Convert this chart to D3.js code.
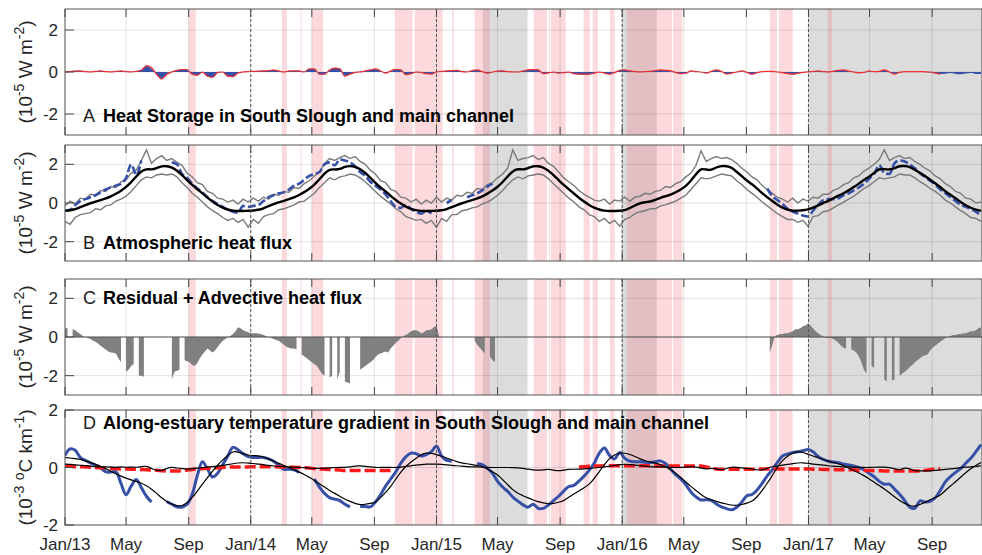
<!DOCTYPE html>
<html>
<head>
<meta charset="utf-8">
<script src="https://cdn.jsdelivr.net/npm/d3@7"></script>
<style>
body { margin: 0; background: #fff; }
svg { font-family: "Liberation Sans", Arial, Helvetica, sans-serif; }
</style>
</head>
<body>
<div id="chart"></div>
<script>
// time axis: 10-day samples from Jan 1 2013 unless noted
let t0 = new Date(2013, 0, 1);
let t1 = new Date(2017, 11, 8);

// shaded periods
let pinkBands = [
  ['2013-09-01', '2013-09-15'], ['2014-03-03', '2014-03-13'], ['2014-04-09', '2014-04-11'],
  ['2014-05-01', '2014-05-23'], ['2014-10-11', '2014-11-15'], ['2014-11-19', '2015-01-13'],
  ['2015-02-01', '2015-02-04'], ['2015-03-17', '2015-04-16'], ['2015-07-11', '2015-08-06'],
  ['2015-08-10', '2015-08-12'], ['2015-08-14', '2015-09-12'], ['2015-10-17', '2015-10-29'],
  ['2015-11-04', '2015-11-14'], ['2015-12-08', '2015-12-17'], ['2016-01-10', '2016-04-08'],
  ['2016-04-10', '2016-04-28'], ['2016-10-17', '2016-10-31'], ['2016-11-04', '2016-12-01'],
  ['2017-02-08', '2017-02-16']
];
let grayBands = [['2015-04-02', '2015-06-29'], ['2015-12-31', '2016-03-09'], ['2017-01-01', '2017-12-31']];

// A: heat storage
let storageA = [0.02,0.04,0.06,0.05,0.02,0.01,0.04,0.06,0.03,0.01,
  0.04,0.06,0.03,0.01,0.05,0.12,0.28,0.15,-0.12,-0.3,
  -0.1,0.02,0.1,0.12,0.1,-0.12,-0.17,-0.02,-0.22,-0.26,
  -0.05,0,-0.22,-0.25,-0.06,0.01,0.03,0.04,0.05,0.06,
  0.08,0.1,0.06,0.01,0.05,0.06,0.06,0.02,0.16,0.14,
  -0.12,-0.12,0.1,0.2,0.15,-0.18,-0.12,-0.03,0.01,0.05,
  0.1,0.14,0.06,-0.06,0.04,0.12,0.1,-0.14,-0.1,-0.01,
  -0.03,-0.1,-0.1,0.01,0.04,0.05,0.08,0.09,0.03,0.01,
  0.06,0.1,0.03,-0.06,-0.01,0.04,0.06,0.03,0.01,0.01,
  0.06,0.1,0.12,0.1,-0.1,-0.06,-0.02,-0.06,-0.04,-0.02,
  -0.1,-0.12,-0.13,-0.12,-0.06,-0.01,-0.06,-0.12,-0.04,0.07,
  0.1,0.06,0.03,0.01,0.03,0.04,0.08,0.1,0.08,0.04,
  -0.03,-0.1,-0.07,0.04,0.02,0,-0.06,0.02,0.09,0.02,
  -0.1,-0.06,0,0.04,-0.03,-0.12,-0.05,0.01,0.03,0.02,
  0,-0.04,-0.1,-0.12,-0.08,-0.03,0.01,0.04,0.05,0.03,
  0.01,0.05,0.08,0.1,0.05,0.01,-0.04,-0.03,0.04,0.03,
  0.03,0.09,0.01,-0.08,-0.02,0.01,0.02,0.01,0.01,0,
  -0.02,-0.06,-0.1,-0.08,-0.05,-0.09,-0.11,-0.07,-0.05,-0.09,
  -0.1];
let redA = [0,0.02,0.04,0.05,0.02,0,0.03,0.05,0.02,0,
  0.03,0.05,0.02,0,0.03,0.08,0.3,0.2,-0.1,-0.33,
  -0.12,0,0.08,0.12,0.12,-0.1,-0.15,0,-0.2,-0.25,
  -0.02,0,-0.2,-0.22,-0.05,0,0.02,0.03,0.04,0.05,
  0.07,0.1,0.05,0,0.05,0.05,0.05,0,0.15,0.15,
  -0.1,-0.1,0.1,0.18,0.15,-0.2,-0.1,-0.02,0,0.05,
  0.1,0.15,0.05,-0.05,0.05,0.13,0.1,-0.13,-0.08,0,
  -0.02,-0.08,-0.1,0,0.03,0.05,0.07,0.08,0.02,0,
  0.07,0.1,0.02,-0.05,0,0.04,0.05,0.02,0,0,
  0.05,0.1,0.12,0.1,-0.08,-0.04,0,-0.05,-0.03,0,
  -0.08,-0.1,-0.1,-0.1,-0.05,0,-0.05,-0.1,-0.03,0.08,
  0.1,0.05,0.02,0,0.02,0.03,0.07,0.1,0.08,0.05,
  -0.02,-0.08,-0.06,0.05,0.02,0,-0.05,0.03,0.1,0.03,
  -0.1,-0.05,0,0.05,-0.02,-0.1,-0.03,0.02,0.03,0.03,
  0,-0.03,-0.08,-0.1,-0.06,-0.02,0,0.03,0.05,0.02,
  0,0.04,0.08,0.1,0.04,0,-0.04,-0.02,0.05,0.02,
  0.03,0.1,0,-0.1,-0.02,0.02,0.02,0.02,0.02,0.01,
  0,-0.05,-0.1,null,null,null,null,null,null,null,
  null];

// B: atmospheric heat flux
let meanB = [-0.4,-0.38,-0.33,-0.21,-0.11,-0.01,0.07,0.15,0.23,0.34,
  0.48,0.63,0.83,1.07,1.38,1.65,1.77,1.72,1.8,1.91,
  1.91,1.85,1.68,1.45,1.18,0.93,0.71,0.5,0.27,0.07,
  -0.11,-0.25,-0.34,-0.4,-0.42,-0.41,-0.4,-0.39,-0.36,-0.28,
  -0.16,-0.06,0.03,0.11,0.2,0.29,0.41,0.56,0.73,0.94,
  1.23,1.53,1.76,1.73,1.74,1.88,1.92,1.88,1.76,1.56,
  1.31,1.04,0.8,0.6,0.37,0.15,-0.03,-0.2,-0.31,-0.37,
  -0.41,-0.42,-0.41,-0.4,-0.38,-0.32,-0.21,-0.11,-0.01,0.07,
  0.15,0.23,0.34,0.48,0.64,0.83,1.08,1.38,1.66,1.77,
  1.72,1.8,1.91,1.91,1.84,1.67,1.45,1.18,0.93,0.71,
  0.49,0.27,0.07,-0.11,-0.25,-0.34,-0.4,-0.42,-0.41,-0.4,
  -0.39,-0.26,-0.13,0,0.04,0.07,0.15,0.27,0.35,0.42,
  0.55,0.7,0.87,1.15,1.5,1.8,1.72,1.7,1.85,1.92,
  1.91,1.85,1.6,1.4,1.15,0.98,0.75,0.5,0.3,0.1,
  -0.1,-0.24,-0.35,-0.4,-0.4,-0.38,-0.34,-0.25,-0.12,0,
  0.1,0.25,0.38,0.5,0.65,0.82,1.0,1.2,1.35,1.55,
  1.78,1.75,1.72,1.8,1.92,1.92,1.88,1.72,1.55,1.4,
  1.2,1.03,0.82,0.6,0.42,0.25,0.05,-0.12,-0.25,-0.35,
  -0.4];
let upperB = [-0.15,0.1,-0.05,0.25,0.2,0.45,0.4,0.65,0.6,0.85,
  0.8,1.1,1.2,1.55,1.7,2.2,2.75,2.05,2.3,2.45,
  2.2,2.3,2.1,1.95,1.55,1.35,1.05,0.95,0.6,0.5,
  0.25,0.2,0.05,0.15,-0.05,0.2,0.05,0.25,0.1,0.3,
  0.2,0.45,0.4,0.6,0.55,0.8,0.75,1.0,1.15,1.4,
  1.6,2.05,2.3,2.2,2.35,2.45,2.3,2.4,2.15,2.0,
  1.7,1.5,1.15,1.05,0.7,0.6,0.3,0.25,0.05,0.2,
  -0.05,0.15,0.0,0.3,0.05,0.25,0.15,0.4,0.35,0.55,
  0.5,0.75,0.7,0.95,1.05,1.3,1.5,1.8,2.75,2.2,
  2.3,2.35,2.45,2.25,2.35,2.05,1.9,1.6,1.3,1.1,
  0.9,0.65,0.45,0.3,0.15,0.1,0.2,-0.05,0.15,0.1,
  0.3,0.1,0.3,0.35,0.5,0.45,0.6,0.65,0.85,0.8,
  1.0,1.1,1.35,1.55,1.95,2.7,2.15,2.3,2.4,2.3,
  2.35,2.25,2.05,1.8,1.6,1.35,1.2,0.9,0.7,0.5,
  0.3,0.2,0.05,0.25,0.0,0.2,0.1,0.3,0.25,0.45,
  0.45,0.65,0.75,0.95,1.05,1.3,1.4,1.65,1.8,2.0,
  2.25,2.75,2.2,2.35,2.45,2.3,2.35,2.15,2.0,1.8,
  1.65,1.4,1.25,1.0,0.85,0.6,0.5,0.25,0.2,0.0,
  0.05];
let lowerB = [-0.95,-1.1,-0.75,-0.6,-0.55,-0.5,-0.3,-0.35,-0.15,-0.1,
  0.1,0.2,0.35,0.6,0.9,1.2,1.35,1.3,1.45,1.5,
  1.45,1.5,1.35,1.05,0.8,0.5,0.3,0.05,-0.2,-0.4,
  -0.55,-0.75,-0.9,-0.8,-1.0,-0.85,-1.25,-0.85,-1.05,-0.7,
  -0.6,-0.55,-0.35,-0.3,-0.2,-0.1,0.05,0.1,0.3,0.5,
  0.8,1.05,1.3,1.2,1.35,1.4,1.5,1.45,1.3,1.1,
  0.85,0.6,0.35,0.15,-0.05,-0.3,-0.45,-0.7,-0.8,-0.9,
  -0.85,-1.05,-0.9,-1.25,-0.8,-0.95,-0.6,-0.6,-0.4,-0.35,
  -0.25,-0.2,-0.05,0.05,0.2,0.4,0.65,0.95,1.2,1.35,
  1.25,1.4,1.45,1.5,1.45,1.25,1.0,0.75,0.5,0.25,
  0.05,-0.2,-0.35,-0.6,-0.7,-0.95,-0.8,-1.05,-0.9,-1.2,
  -0.85,-0.75,-0.55,-0.45,-0.4,-0.3,-0.3,-0.15,-0.1,0.0,
  0.1,0.25,0.4,0.7,1.0,1.3,1.25,1.3,1.4,1.5,
  1.45,1.4,1.15,0.95,0.7,0.5,0.3,0.05,-0.15,-0.35,
  -0.55,-0.7,-0.85,-0.85,-1.0,-0.9,-1.2,-0.7,-0.65,-0.45,
  -0.4,-0.25,-0.1,0.05,0.2,0.35,0.55,0.75,0.9,1.1,
  1.3,1.25,1.3,1.35,1.5,1.45,1.45,1.3,1.1,0.95,
  0.75,0.6,0.4,0.15,0.0,-0.2,-0.4,-0.55,-0.75,-0.8,
  -0.95];
let blueB = [-0.4,-0.35,-0.1,0.1,0.2,0.3,0.4,0.55,0.7,0.8,
  0.9,1.0,1.3,2.0,1.45,2.2,null,null,null,null,
  null,2.1,2.0,1.5,1.3,1.0,0.75,0.55,0.3,0.1,
  -0.05,-0.2,-0.35,-0.45,-0.5,-0.15,-0.2,-0.15,-0.1,0.1,
  0.3,0.4,0.5,0.55,0.7,0.9,1.0,1.2,1.4,1.5,
  1.6,2.0,2.1,1.95,2.25,2.2,2.1,1.9,1.6,1.4,
  1.1,0.9,0.7,0.45,0.1,-0.2,-0.25,-0.1,-0.3,-0.45,
  -0.55,-0.4,-0.55,null,null,0.0,0.15,null,null,0.3,
  0.4,0.5,0.65,0.85,1.0,null,null,null,null,null,
  null,null,null,null,null,null,null,null,null,null,
  null,null,null,null,null,null,null,null,null,null,
  null,null,null,null,null,null,null,null,null,null,
  null,null,null,null,null,null,null,null,null,null,
  null,null,null,null,null,null,null,null,0.75,0.35,
  0.15,-0.05,-0.3,-0.45,-0.55,-0.65,-0.7,-0.4,-0.1,0.15,
  0.2,0.2,0.25,0.4,0.5,0.65,0.8,1.0,1.25,1.5,
  1.95,1.55,1.5,2.05,2.2,2.15,2.0,1.8,1.55,1.35,
  1.15,0.95,0.7,0.5,0.3,0.1,-0.1,-0.2,-0.3,-0.45,
  -0.65];

// C: residual + advective, 5-day samples in three runs
let residStart1 = '2013-01-01';
let resid1 = [0.45,0.45,null,0.4,0.35,0.25,0.15,0.05,0,-0.05,
  -0.1,-0.2,-0.25,-0.35,-0.45,-0.55,-0.65,-0.75,-0.8,-0.82,
  -0.85,-1.1,-1.3,null,-1.8,-1.7,-1.5,-1.4,null,-2.0,
  -2.0,-2.05,null,null,null,null,null,null,null,null,
  null,null,-2.2,-1.8,-1.75,-1.7,null,-1.2,-1.25,-1.3,
  -1.45,-1.5,-1.35,-1.1,-0.9,-0.75,-0.6,-0.7,-0.8,-0.7,
  -0.5,-0.35,-0.2,-0.1,0,0.05,0.15,0.3,0.5,0.45,
  0.35,0.3,0.25,0.2,0.2,0.2,0.18,0.15,0.1,0.05,
  0,-0.05,-0.1,-0.15,-0.2,-0.3,-0.4,-0.5,-0.55,-0.6,
  -0.6,-0.65,null,-0.9,-1.0,-1.1,-1.2,-1.3,-1.4,-1.5,
  -1.7,-1.9,-2.0,null,-2.1,-2.0,null,-2.2,-1.8,null,
  -2.3,-2.35,-2.4,null,-2.2,null,-1.7,-1.6,-1.5,-1.4,
  -1.3,-1.2,-1.05,-0.9,-0.85,-0.8,-0.75,-0.8,-0.6,-0.45,
  -0.3,-0.2,-0.05,0.05,0.1,0.2,0.3,0.35,0.35,0.3,
  0.2,0.25,0.35,0.35,0.4,0.5,0.6,0.05];
let residStart2 = '2015-03-17';
let resid2 = [-0.2,-0.4,-0.55,-0.7,-0.85,null,-1.0,-1.2,-1.3];
let residStart3 = '2016-10-17';
let resid3 = [-0.8,-0.4,0.05,0.1,0.15,0.15,0.2,0.2,0.25,0.3,
  0.4,0.4,0.45,0.55,0.6,0.7,0.6,0.45,0.3,0.2,
  0.1,0.02,-0.05,-0.05,-0.05,-0.1,-0.2,-0.3,-0.45,-0.55,
  -0.6,null,-0.65,-0.7,-0.8,-1.0,-1.3,-1.7,-1.9,null,
  -1.5,-1.6,null,-1.5,null,-2.2,-2.3,null,-2.25,-2.2,
  null,-2.0,-1.9,-1.8,-1.7,-1.55,-1.45,-1.3,-1.2,-1.1,
  -1.0,-0.95,-0.9,-0.7,-0.55,-0.45,-0.35,-0.25,-0.15,-0.05,
  0,0.05,0.1,0.1,0.15,0.15,0.2,0.2,0.25,0.3,
  0.3,0.35,0.45,0.5];

// D: along-estuary temperature gradient
let gradD = [0.42,0.65,0.6,0.35,0.25,0.16,0.08,-0.02,-0.15,-0.16,
  -0.15,-0.55,-0.95,-0.65,-0.42,-0.7,-1.0,-1.2,null,null,
  -1.18,-1.28,-1.37,-1.38,-1.28,-0.93,-0.28,0.2,-0.05,-0.33,
  -0.2,0.1,0.4,0.7,0.62,0.48,0.38,0.35,0.35,0.35,
  0.3,0.22,0.08,-0.06,-0.06,-0.08,-0.17,null,null,-0.4,
  -0.68,-0.9,-1.05,-1.1,-1.15,-1.28,-1.37,null,-1.35,-1.36,
  -1.37,-1.2,-0.95,-0.65,-0.4,-0.15,0.15,0.38,0.5,0.48,
  0.4,0.45,0.55,0.75,0.4,0.25,0.23,null,null,null,
  null,0.14,0.1,-0.02,-0.2,-0.48,-0.68,-0.83,-1.03,-1.17,
  -1.3,-1.38,-1.28,-1.42,-1.42,-1.3,-1.15,-1.0,-0.82,-0.66,
  -0.62,-0.47,-0.3,-0.1,0.15,0.5,0.68,0.42,0.3,0.52,
  0.32,0.22,0.2,0.2,0.18,0.17,0.2,0.23,0.14,-0.05,
  -0.25,-0.4,-0.6,-0.85,-1.02,-1.13,-1.12,-1.14,-1.27,-1.37,
  -1.43,-1.47,-1.38,-1.2,-0.98,-0.94,-0.78,-0.55,-0.29,-0.08,
  0.18,0.4,0.47,0.52,0.55,0.58,0.63,0.55,0.38,0.28,
  0.22,0.19,0.17,0.12,0.09,0.05,0,-0.08,-0.2,-0.32,
  -0.48,-0.58,-0.58,-0.75,-0.93,-1.15,-1.38,-1.42,-1.16,-1.2,
  -1.18,-1.05,-0.8,-0.5,-0.32,-0.17,-0.04,0.15,0.32,0.55,
  0.8];
let fitD = [0.35,0.33,0.31,0.29,0.23,0.17,0.11,0.05,-0.04,-0.13,
  -0.22,-0.3,-0.37,-0.43,-0.49,-0.54,-0.63,-0.75,-0.9,-1.06,
  -1.19,-1.27,-1.34,-1.34,-1.23,-1.05,-0.82,-0.58,-0.35,-0.12,
  0.08,0.27,0.42,0.57,0.54,0.48,0.43,0.41,0.41,0.37,
  0.3,0.22,0.14,0.07,0,-0.08,-0.16,-0.24,-0.34,-0.45,
  -0.57,-0.68,-0.8,-0.9,-1.0,-1.1,-1.18,-1.25,-1.3,-1.28,
  -1.25,-1.22,-1.05,-0.87,-0.67,-0.4,-0.15,0.04,0.2,0.32,
  0.45,0.52,0.49,0.45,0.39,0.33,0.27,0.2,0.16,0.13,
  0.1,0.07,0.04,-0.05,-0.15,-0.25,-0.42,-0.6,-0.78,-0.9,
  -0.98,-1.06,-1.13,-1.19,-1.23,-1.27,-1.25,-1.21,-1.17,-1.03,
  -0.92,-0.82,-0.7,-0.6,-0.38,-0.14,0.1,0.33,0.44,0.52,
  0.5,0.46,0.38,0.3,0.23,0.19,0.15,0.11,0.03,-0.08,
  -0.19,-0.35,-0.5,-0.66,-0.8,-0.94,-1.06,-1.12,-1.18,-1.23,
  -1.27,-1.31,-1.32,-1.29,-1.24,-1.18,-1.03,-0.8,-0.55,-0.28,
  0.03,0.25,0.4,0.5,0.56,0.53,0.46,0.4,0.34,0.28,
  0.22,0.17,0.13,0.07,-0.02,-0.1,-0.19,-0.28,-0.39,-0.51,
  -0.63,-0.74,-0.88,-1.02,-1.15,-1.25,-1.33,-1.36,-1.28,-1.22,
  -1.12,-1.04,-0.97,-0.8,-0.64,-0.5,-0.34,-0.18,-0.04,0.07,
  0.17];
let anomD = [0.12,0.11,0.09,0.08,0.06,0.05,0.03,0.02,0.02,0.01,
  0,0.03,0,0.02,0,0.03,0.06,-0.04,-0.1,-0.12,
  -0.03,0.02,-0.02,-0.04,-0.06,-0.04,-0.02,0,0.01,0.03,
  0.05,0.07,0.1,0.13,0.16,0.17,0.15,0.14,0.12,0.1,
  0.07,0.05,0.04,0.03,0.02,0.01,0,0,-0.02,-0.03,
  -0.03,-0.02,-0.01,0,0.01,0,0.02,0.05,0.06,0.04,
  0.02,0,0,0.01,0,0,0.01,0.04,0.06,0.08,
  0.1,0.12,0.12,0.12,0.11,0.09,0.07,0.06,0.05,0.03,
  0.02,0.02,0.01,0,0,0,0,0,0,-0.01,
  -0.03,-0.06,-0.08,-0.1,-0.08,-0.06,-0.09,-0.12,-0.09,-0.06,
  -0.06,-0.06,-0.05,-0.03,-0.02,0,0.02,0.05,0.07,0.1,
  0.12,0.1,0.08,0.06,0.05,0.03,0.02,0.02,0.01,0,
  0,0,0.01,0.02,0.02,-0.02,-0.06,-0.02,-0.04,-0.1,
  -0.03,0.02,0,-0.01,-0.03,-0.05,-0.08,-0.1,-0.02,0.03,
  0.05,0.08,0.11,0.13,0.16,0.17,0.14,0.12,0.1,0.08,
  0.06,0.05,0.04,0.02,0.02,0.01,0.01,0,0,0.01,
  0.01,0.02,0,-0.04,-0.1,0,-0.04,-0.12,-0.12,-0.12,
  -0.12,-0.1,-0.08,-0.07,-0.05,-0.03,0,0.01,0.02,0.04,
  0.06];
let redD = [0.04,0.04,0.03,0.03,0.02,0.01,0,-0.01,-0.02,-0.03,
  -0.04,-0.05,-0.05,-0.06,-0.06,-0.07,-0.08,-0.09,-0.1,-0.11,
  -0.12,-0.12,-0.12,-0.11,-0.09,-0.07,-0.05,-0.04,-0.03,-0.02,
  -0.01,0,0.01,0.02,0.02,0.02,0.02,0.03,0.03,0.03,
  0.03,0.03,0.02,0.02,0.01,0.01,0,-0.01,-0.02,-0.04,
  -0.05,-0.06,-0.07,-0.08,-0.09,-0.1,-0.1,-0.1,-0.1,-0.1,
  -0.1,-0.1,-0.1,-0.1,-0.1,null,null,null,null,null,
  null,null,null,null,null,null,null,null,null,null,
  null,null,null,null,null,null,null,null,null,null,
  null,null,null,null,null,null,null,null,null,null,
  null,0.02,0.03,0.04,0.05,0.05,0.06,0.06,0.06,0.06,
  0.06,0.06,0.06,0.06,0.06,0.06,0.05,0.05,0.05,0.05,
  0.05,0.05,0.05,0.05,0.05,0.05,0.02,-0.02,-0.05,-0.06,
  -0.06,-0.06,-0.06,-0.06,-0.06,-0.06,-0.06,-0.05,-0.05,-0.05,
  -0.05,-0.05,-0.05,-0.05,-0.05,-0.05,-0.05,-0.06,-0.06,-0.07,
  -0.07,-0.07,-0.08,-0.08,-0.08,-0.08,-0.1,-0.1,-0.1,-0.11,
  -0.11,-0.12,-0.12,-0.12,-0.12,-0.12,-0.12,-0.12,-0.12,-0.1,
  -0.08,-0.06,-0.05,null,null,null,null,null,null,null,
  null];

let yTicks = [-2, 0, 2];
let titles = [
  ['A', 'Heat Storage in South Slough and main channel'],
  ['B', 'Atmospheric heat flux'],
  ['C', 'Residual + Advective heat flux'],
  ['D', 'Along-estuary temperature gradient in South Slough and main channel']
];

function series(vals, start, step) {
  return vals.map((v, i) => ({ t: d3.timeDay.offset(start, i * step), v: v }));
}
let parse = d3.timeParse('%Y-%m-%d');

let width = 982, height = 555;
let svg = d3.select('#chart').append('svg').attr('width', width).attr('height', height);

let x = d3.scaleTime().domain([t0, t1]).range([65, 982]);
let xTicks = d3.timeMonth.every(4).range(t0, t1);
let janTicks = xTicks.filter(d => d.getMonth() === 0 && d > t0);

let panels = [
  { top: 9, bottom: 135, dom: [-3, 3] },
  { top: 145, bottom: 261, dom: [-3, 3] },
  { top: 279, bottom: 395, dom: [-3, 3] },
  { top: 410, bottom: 525, dom: [-2, 2] }
];

let blue = '#3650a8';

panels.forEach((p, k) => {
  let y = d3.scaleLinear().domain(p.dom).range([p.bottom, p.top]);
  let g = svg.append('g');
  g.append('clipPath').attr('id', 'clip' + k)
    .append('rect').attr('x', 65).attr('y', p.top).attr('width', 917).attr('height', p.bottom - p.top);
  let inner = g.append('g').attr('clip-path', `url(#clip${k})`);

  // shading
  inner.selectAll('rect.gray').data(grayBands).enter().append('rect')
    .attr('x', d => x(parse(d[0]))).attr('width', d => x(parse(d[1])) - x(parse(d[0])))
    .attr('y', p.top).attr('height', p.bottom - p.top).attr('fill', '#dcdcdc');
  inner.selectAll('rect.pink').data(pinkBands).enter().append('rect')
    .attr('x', d => x(parse(d[0]))).attr('width', d => Math.max(1, x(parse(d[1])) - x(parse(d[0]))))
    .attr('y', p.top).attr('height', p.bottom - p.top).attr('fill', 'rgb(240,120,130)').attr('fill-opacity', 0.28);

  // grid
  inner.selectAll('line.vg').data(xTicks).enter().append('line')
    .attr('x1', d => x(d)).attr('x2', d => x(d)).attr('y1', p.top).attr('y2', p.bottom)
    .attr('stroke', 'rgba(40,40,40,0.13)');
  inner.selectAll('line.hg').data(yTicks).enter().append('line')
    .attr('x1', 65).attr('x2', 982).attr('y1', d => y(d)).attr('y2', d => y(d))
    .attr('stroke', 'rgba(40,40,40,0.13)');

  let line = d3.line().defined(d => d.v != null).x(d => x(d.t)).y(d => y(d.v));

  if (k === 0) {
    let area = d3.area().defined(d => d.v != null).x(d => x(d.t)).y0(y(0)).y1(d => y(d.v))
      .curve(d3.curveMonotoneX);
    inner.append('path').datum(series(storageA, t0, 10)).attr('d', area).attr('fill', blue);
    inner.append('path').datum(series(redA, t0, 10)).attr('d', line.curve(d3.curveMonotoneX))
      .attr('fill', 'none').attr('stroke', '#ee3030').attr('stroke-width', 1.2);
  }
  if (k === 1) {
    [upperB, lowerB].forEach(s => {
      inner.append('path').datum(series(s, t0, 10)).attr('d', line.curve(d3.curveLinear))
        .attr('fill', 'none').attr('stroke', '#7a7a7a').attr('stroke-width', 1.4);
    });
    inner.append('path').datum(series(blueB, t0, 10)).attr('d', line.curve(d3.curveMonotoneX))
      .attr('fill', 'none').attr('stroke', blue).attr('stroke-width', 2.6).attr('stroke-dasharray', '8,3');
    inner.append('path').datum(series(meanB, t0, 10)).attr('d', line.curve(d3.curveBasis))
      .attr('fill', 'none').attr('stroke', '#000').attr('stroke-width', 2.4);
  }
  if (k === 2) {
    let area = d3.area().defined(d => d.v != null).x(d => x(d.t)).y0(y(0)).y1(d => y(d.v));
    [[resid1, residStart1], [resid2, residStart2], [resid3, residStart3]].forEach(r => {
      inner.append('path').datum(series(r[0], parse(r[1]), 5)).attr('d', area).attr('fill', '#808080');
    });
    inner.append('line').attr('x1', 65).attr('x2', 982).attr('y1', y(0)).attr('y2', y(0))
      .attr('stroke', '#555').attr('stroke-width', 1);
  }
  if (k === 3) {
    inner.append('path').datum(series(gradD, t0, 10)).attr('d', line.curve(d3.curveCatmullRom))
      .attr('fill', 'none').attr('stroke', blue).attr('stroke-width', 3);
    inner.append('path').datum(series(redD, t0, 10)).attr('d', line.curve(d3.curveMonotoneX))
      .attr('fill', 'none').attr('stroke', '#ff1a1a').attr('stroke-width', 3.5).attr('stroke-dasharray', '11,4');
    [fitD, anomD].forEach(s => {
      inner.append('path').datum(series(s, t0, 10)).attr('d', line.curve(d3.curveBasis))
        .attr('fill', 'none').attr('stroke', '#000').attr('stroke-width', 1.2);
    });
  }

  // year separators
  inner.selectAll('line.jan').data(janTicks).enter().append('line')
    .attr('x1', d => x(d)).attr('x2', d => x(d)).attr('y1', p.top).attr('y2', p.bottom)
    .attr('stroke', '#555').attr('stroke-dasharray', '3,2');

  // frame and ticks
  g.append('rect').attr('x', 65).attr('y', p.top).attr('width', 917).attr('height', p.bottom - p.top)
    .attr('fill', 'none').attr('stroke', '#555');
  g.selectAll('line.xt').data(xTicks).enter().append('line')
    .attr('x1', d => x(d)).attr('x2', d => x(d)).attr('y1', p.bottom).attr('y2', p.bottom - 8)
    .attr('stroke', '#444');
  g.selectAll('line.xt2').data(xTicks).enter().append('line')
    .attr('x1', d => x(d)).attr('x2', d => x(d)).attr('y1', p.top).attr('y2', p.top + 8)
    .attr('stroke', '#444');
  g.selectAll('line.yt').data(yTicks).enter().append('line')
    .attr('x1', 65).attr('x2', 74).attr('y1', d => y(d)).attr('y2', d => y(d))
    .attr('stroke', '#444');
  g.selectAll('text.yl').data(yTicks).enter().append('text')
    .attr('x', 58).attr('y', d => y(d)).attr('dy', '0.36em').attr('text-anchor', 'end')
    .attr('font-size', 17).attr('fill', '#262626').text(d => d);

  // y label, superscripts raised with dy
  let parts = k === 3
    ? [['(10', 0], ['-3', 1], [' ', 0], ['o', 1], ['C km', 0], ['-1', 1], [')', 0]]
    : [['(10', 0], ['-5', 1], [' W m', 0], ['-2', 1], [')', 0]];
  let lab = g.append('text').attr('transform', `translate(32,${(p.top + p.bottom) / 2}) rotate(-90)`)
    .attr('text-anchor', 'middle').attr('font-size', 19).attr('fill', '#262626');
  let raised = false;
  parts.forEach(pt => {
    let sup = pt[1] === 1;
    let dy = sup ? (raised ? 0 : -8) : (raised ? 8 : 0);
    raised = sup;
    lab.append('tspan').attr('dy', dy).attr('font-size', sup ? 14 : 19).text(pt[0]);
  });

  // title
  let ty = [122, 249, 304, 429][k];
  g.append('text').attr('x', 83).attr('y', ty).attr('font-size', 18).attr('fill', '#222').text(titles[k][0]);
  g.append('text').attr('x', 103).attr('y', ty).attr('font-size', 18).attr('font-weight', 'bold')
    .attr('fill', '#000').text(titles[k][1]);
});

// x tick labels on the bottom panel
let fmt = d => d.getMonth() === 0 ? 'Jan/' + String(d.getFullYear()).slice(2) : d3.timeFormat('%b')(d);
svg.selectAll('text.xl').data(xTicks).enter().append('text')
  .attr('x', d => x(d)).attr('y', 550).attr('text-anchor', 'middle')
  .attr('font-size', 17).attr('fill', '#262626').text(fmt);
</script>
</body>
</html>
